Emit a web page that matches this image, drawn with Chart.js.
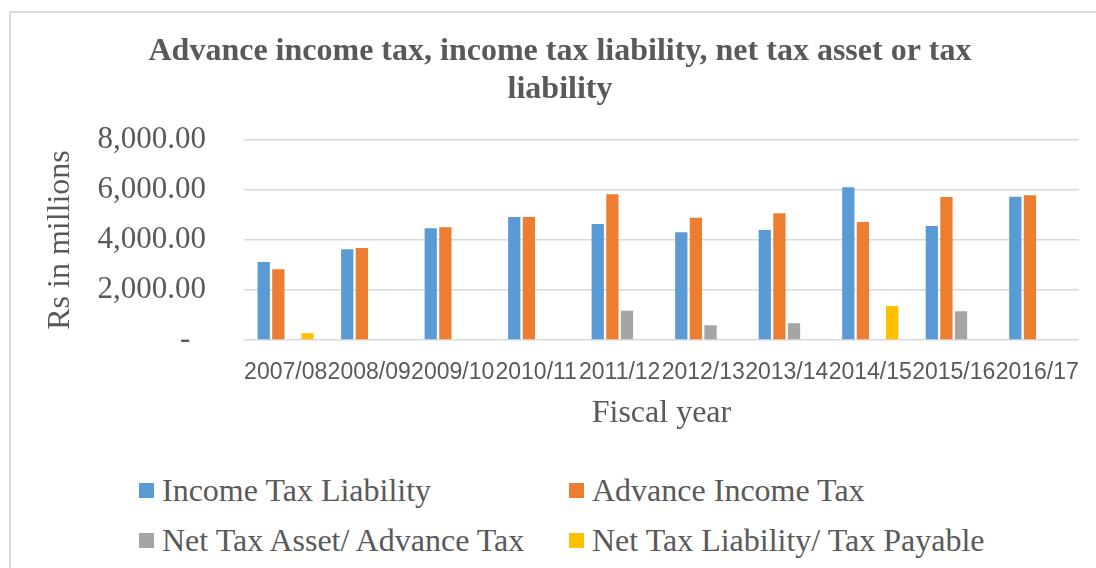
<!DOCTYPE html>
<html>
<head>
<meta charset="utf-8">
<script src="https://cdn.jsdelivr.net/npm/chart.js@4"></script>
<style>
  html, body { margin: 0; padding: 0; background: #fff; }
  body { width: 1096px; height: 568px; position: relative; overflow: hidden; }
  #frame {
    position: absolute; left: 9px; top: 11px; width: 1100px; height: 600px;
    border-top: 2px solid #dcdcdc; border-left: 2px solid #dcdcdc;
  }
  #wrap { position: absolute; left: 0; top: 0; width: 1096px; height: 440px; }
  #legend { position: absolute; left: 0; top: 0; font-family: "Liberation Serif", "Times New Roman", serif; }
  .item { position: absolute; display: flex; align-items: center; color: #595959; font-size: 32px; white-space: nowrap; }
  .item span.box { width: 15px; height: 15px; margin-right: 8px; display: inline-block; }
</style>
</head>
<body>
<div id="frame"></div>
<div id="wrap"><canvas id="taxChart" width="1096" height="440"></canvas></div>
<div id="legend"></div>
<script>
const years = ['2007/08', '2008/09', '2009/10', '2010/11', '2011/12', '2012/13', '2013/14', '2014/15', '2015/16', '2016/17'];
const incomeTaxLiability = [3120, 3630, 4470, 4920, 4640, 4310, 4400, 6110, 4560, 5730];
const advanceIncomeTax = [2830, 3680, 4510, 4920, 5830, 4890, 5070, 4720, 5720, 5790];
const netTaxAsset = [0, 30, 30, 0, 1170, 590, 670, 0, 1150, 30];
const netTaxLiability = [270, 0, 0, 0, 0, 0, 0, 1360, 0, 0];
const yTicks = [0, 2000, 4000, 6000, 8000];

const textGrey = '#595959';
const serif = '"Liberation Serif", "Times New Roman", serif';

function series(label, data, color) {
    return {
        label: label,
        data: data,
        backgroundColor: color,
        borderWidth: 0,
        categoryPercentage: 0.7,
        barPercentage: 0.84
    };
}

const chart = new Chart(document.getElementById('taxChart'), {
    type: 'bar',
    data: {
        labels: years,
        datasets: [
            series('Income Tax Liability', incomeTaxLiability, '#5B9BD5'),
            series('Advance Income Tax', advanceIncomeTax, '#ED7D31'),
            series('Net Tax Asset/ Advance Tax', netTaxAsset, '#A5A5A5'),
            series('Net Tax Liability/ Tax Payable', netTaxLiability, '#FFC000')
        ]
    },
    options: {
        responsive: false,
        animation: false,
        layout: { padding: { top: 33, left: 41, right: 17, bottom: 7 } },
        plugins: {
            legend: { display: false },
            tooltip: { enabled: false },
            title: {
                display: true,
                text: ['Advance income tax, income tax liability, net tax asset or tax', 'liability'],
                color: textGrey,
                font: { family: serif, size: 32, weight: 'bold', lineHeight: 38 / 32 },
                padding: { top: 0, bottom: 31 }
            }
        },
        scales: {
            x: {
                // invisible tick marks only used as spacing above the labels
                grid: { display: false, drawTicks: true, tickLength: 11 },
                border: { display: false },
                ticks: {
                    color: textGrey,
                    font: { family: '"Liberation Sans", Arial, sans-serif', size: 23 },
                    padding: 8,
                    autoSkip: false,
                    maxRotation: 0,
                    minRotation: 0
                },
                title: {
                    display: true,
                    text: 'Fiscal year',
                    color: textGrey,
                    font: { family: serif, size: 32 },
                    padding: 0
                }
            },
            y: {
                min: 0,
                max: 8000,
                afterBuildTicks: (axis) => { axis.ticks = yTicks.map(v => ({ value: v })); },
                grid: { color: '#d9d9d9', lineWidth: 1.5, drawTicks: true, tickLength: 20, tickColor: 'rgba(0,0,0,0)' },
                border: { display: false },
                ticks: {
                    color: textGrey,
                    font: { family: serif, size: 31 },
                    padding: 18,
                    callback: (v) => v === 0 ? '-  ' : v.toLocaleString('en-US', { minimumFractionDigits: 2, maximumFractionDigits: 2 })
                },
                title: {
                    display: true,
                    text: 'Rs in millions',
                    color: textGrey,
                    font: { family: serif, size: 32 },
                    padding: 0
                }
            }
        }
    }
});

// legend laid out as a 2 x 2 grid under the chart
const legendSpots = [[139, 490], [569, 490], [139, 540], [569, 540]];
const legendDiv = document.getElementById('legend');
chart.data.datasets.forEach((ds, i) => {
    const item = document.createElement('div');
    item.className = 'item';
    item.style.left = legendSpots[i][0] + 'px';
    item.style.top = (legendSpots[i][1] - 19) + 'px';
    item.style.height = '38px';
    const box = document.createElement('span');
    box.className = 'box';
    box.style.background = ds.backgroundColor;
    item.appendChild(box);
    item.appendChild(document.createTextNode(ds.label));
    legendDiv.appendChild(item);
});
</script>
</body>
</html>
